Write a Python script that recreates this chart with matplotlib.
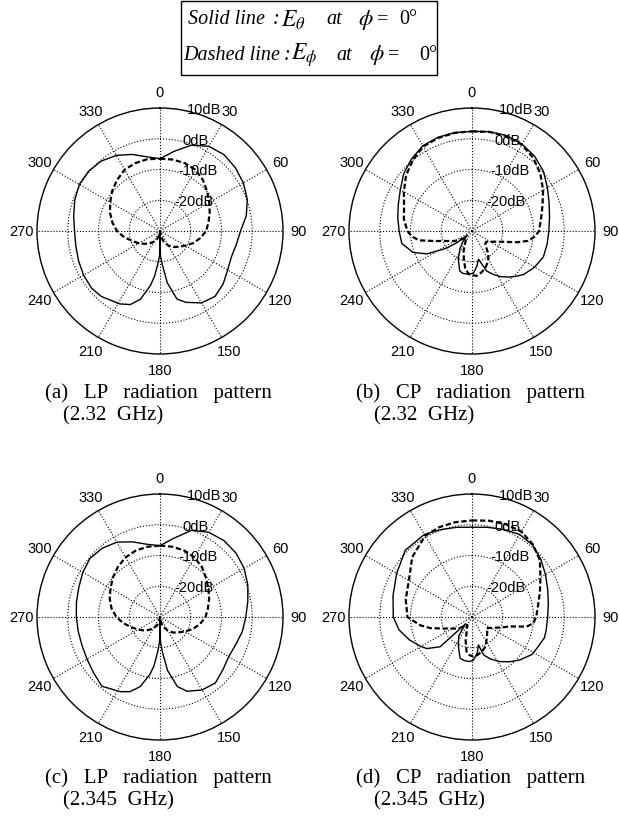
import numpy as np
import matplotlib
matplotlib.use('Agg')
import matplotlib.pyplot as plt
from matplotlib.patches import Rectangle

plt.rcParams['mathtext.fontset'] = 'stix'

# ---------------- data ----------------
angle_ticks = [0, 30, 60, 90, 120, 150, 180, 210, 240, 270, 300, 330]
angle_labels = ['0', '30', '60', '90', '120', '150', '180', '210', '240', '270', '300', '330']
ring_values = [-20, -10, 0, 10]
ring_labels = ['-20dB', '-10dB', '0dB', '10dB']
r_min, r_max = -30, 10

# (a) LP, 2.32 GHz
a_solid_ang = [0, 10, 20, 30, 40, 50, 60, 70, 80, 90, 100, 110, 120, 130, 140, 150, 160, 166, 172, 176,
               179, 180, 181, 184, 187, 190, 196, 202, 209, 222, 230, 240, 250, 260, 270, 280, 290, 300,
               310, 320, 330, 340, 350, 360]
a_solid_db = [-6.5, -3.7, -0.3, 1.8, 2.4, 2.0, 1.3, 0.2, -1.5, -3.8, -4.8, -5.3, -4.6, -3.2, -2.2, -3.0,
              -5.3, -7.2, -13.0, -19.0, -22.0, -29.0, -22.0, -19.0, -15.0, -12.0, -6.9, -4.2, -2.9, -1.4,
              -1.0, -1.3, -1.8, -2.2, -2.2, -1.5, -0.5, 0.3, 0.3, -0.3, -1.6, -3.5, -5.5, -6.5]
a_dash_ang = list(range(0, 361, 10))
a_dash_db = [-6.5, -6.4, -6.5, -7.0, -8.3, -10.0, -11.5, -12.8, -14.0, -15.0, -16.7, -18.5, -20.5,
             -22.0, -23.2, -24.5, -26.2, -28.0, -30.0, -28.5, -27.2, -26.0, -24.7, -23.5, -22.0, -20.5,
             -18.2, -16.0, -14.3, -12.7, -11.3, -9.7, -8.3, -7.0, -6.5, -6.3, -6.5]

# (b) CP, 2.32 GHz
b_solid_ang = [0, 10, 20, 30, 40, 50, 60, 70, 80, 90, 100, 110, 120, 130, 136, 142, 148, 154, 160, 167,
               172, 178, 185, 192, 197, 206, 214, 221, 228, 232, 236, 243, 250, 260, 270, 280, 290, 300,
               310, 320, 330, 340, 350, 360]
b_solid_db = [2.4, 2.8, 3.0, 2.6, 1.7, 0.3, -1.7, -3.3, -4.4, -5.0, -5.2, -5.3, -6.5, -8.0, -9.5, -11.0,
              -12.5, -14.3, -16.2, -20.6, -18.5, -16.3, -15.9, -15.9, -16.4, -19.8, -23.0, -25.5, -28.0,
              -24.0, -20.0, -13.6, -9.6, -6.8, -6.3, -5.5, -4.5, -3.1, -1.0, 0.6, 2.0, 2.4, 2.5, 2.4]
b_dash_ang = [0, 10, 20, 30, 40, 50, 60, 70, 80, 90, 95, 100, 104, 110, 115, 120, 127, 135, 145, 152,
              160, 167, 174, 184, 190, 196, 203, 210, 220, 230, 240, 245, 250, 255, 260, 265, 270, 280,
              290, 300, 310, 320, 330, 340, 350, 360]
b_dash_db = [2.4, 2.7, 2.8, 2.4, 1.0, -1.0, -3.3, -5.6, -7.2, -8.2, -9.5, -11.5, -14.9, -19.8, -21.8,
             -23.0, -24.2, -23.9, -20.7, -18.8, -17.3, -16.2, -15.3, -15.9, -17.5, -20.4, -23.0, -25.6,
             -27.0, -26.0, -23.5, -22.3, -20.5, -17.4, -12.5, -10.3, -9.0, -7.5, -6.5, -4.4, -2.0, 0.0,
             1.7, 2.2, 2.4, 2.4]

# (c) LP, 2.345 GHz
c_solid_ang = [0, 10, 20, 30, 40, 50, 60, 70, 80, 90, 100, 110, 120, 130, 140, 150, 160, 166, 172, 176,
               179, 180, 181, 184, 187, 190, 196, 202, 208, 220, 230, 240, 250, 260, 270, 280, 290, 300,
               310, 320, 330, 340, 350, 360]
c_solid_db = [-6.8, -4.0, 0.0, 1.8, 2.4, 2.3, 1.6, 0.4, -1.0, -2.1, -2.8, -3.8, -4.2, -3.3, -2.0, -2.6,
              -4.3, -6.7, -12.5, -18.5, -22.0, -29.0, -22.0, -18.5, -14.0, -11.0, -6.4, -3.8, -2.5, -0.6,
              -1.8, -2.6, -3.0, -3.0, -2.8, -2.4, -1.9, -1.0, -0.3, -0.8, -1.9, -4.0, -6.0, -6.8]
c_dash_ang = list(range(0, 361, 10))
c_dash_db = [-6.8, -6.8, -7.0, -7.6, -8.8, -10.4, -11.8, -13.0, -14.2, -15.2, -16.8, -18.6, -20.6,
             -22.2, -23.4, -24.8, -26.5, -28.2, -30.0, -28.5, -27.0, -25.8, -24.5, -23.2, -21.8, -20.2,
             -18.0, -15.8, -14.0, -12.6, -11.4, -10.0, -8.7, -7.6, -7.0, -6.8, -6.8]

# (d) CP, 2.345 GHz
d_solid_ang = [0, 10, 20, 30, 40, 50, 60, 70, 80, 90, 100, 106, 116, 122, 132, 140, 148, 156, 163, 167,
               172, 178, 183, 190, 196, 205, 215, 220, 223, 227, 235, 240, 250, 260, 270, 285, 300, 315,
               330, 340, 350, 360]
d_solid_db = [-0.8, -0.4, 0.3, 1.0, 0.6, -0.8, -2.4, -3.8, -4.8, -5.4, -5.5, -5.5, -6.6, -7.0, -9.1,
              -11.0, -12.9, -15.0, -17.1, -20.7, -18.0, -16.0, -15.5, -15.6, -16.0, -19.5, -22.5, -26.0,
              -27.0, -15.8, -12.1, -10.8, -8.3, -5.9, -4.4, -3.4, -1.7, 0.7, 1.0, 0.2, -0.4, -0.8]
d_dash_ang = [0, 10, 20, 30, 40, 50, 60, 70, 80, 90, 96, 100, 104, 110, 118, 127, 135, 145, 155, 164,
              172, 178, 184, 189, 195, 200, 210, 220, 230, 240, 248, 255, 261, 270, 285, 300, 315, 330,
              340, 350, 360]
d_dash_db = [1.4, 1.8, 2.1, 2.1, 0.8, -1.2, -4.3, -6.5, -8.2, -9.1, -10.0, -12.0, -17.3, -20.0, -22.5,
             -24.0, -23.0, -21.6, -19.5, -18.3, -17.5, -17.1, -17.6, -18.6, -22.0, -24.9, -27.0, -26.0,
             -24.0, -22.5, -20.0, -16.0, -12.9, -9.0, -7.7, -6.3, -2.5, 0.5, 1.1, 1.3, 1.4]

captions = [("(a)   LP   radiation   pattern", "(2.32  GHz)"),
            ("(b)   CP   radiation   pattern", "(2.32  GHz)"),
            ("(c)   LP   radiation   pattern", "(2.345  GHz)"),
            ("(d)   CP   radiation   pattern", "(2.345  GHz)")]

legend_line1 = ["Solid line", ":", r"$E_\theta$", "at", r"$\phi$", "=", "0°"]
legend_line2 = ["Dashed line", ":", r"$E_\phi$", "at", r"$\phi$", "=", "0°"]

# ---------------- layout ----------------
W, H = 619, 828
fig = plt.figure(figsize=(W / 100, H / 100), dpi=100)
R = 123  # px radius of the polar circle


def panel(cx, cy, s_ang, s_db, d_ang, d_db):
    ax = fig.add_axes([(cx - R) / W, 1 - (cy + R) / H, 2 * R / W, 2 * R / H], projection='polar')
    ax.set_theta_zero_location('N')
    ax.set_theta_direction(-1)
    ax.set_ylim(r_min, r_max)
    ax.set_yticks(ring_values[:-1])
    ax.set_yticklabels([])
    ax.set_xticks(np.deg2rad(angle_ticks))
    ax.set_xticklabels([])
    ax.tick_params(length=0)
    ax.grid(True, color='k', ls=':', lw=0.8)
    ax.spines['polar'].set_linewidth(1.0)
    ax.plot(np.deg2rad(s_ang), s_db, color='k', lw=1.0)
    ax.plot(np.deg2rad(d_ang), d_db, color='k', ls=(0, (2.4, 1.2)), lw=1.6)
    for a, lab in zip(angle_ticks, angle_labels):
        ax.text(np.deg2rad(a), 15.2, lab, ha='center', va='center', fontsize=10.5,
                family='Liberation Sans', clip_on=False)
    for v, lab in zip(ring_values, ring_labels):
        ax.annotate(lab, xy=(np.deg2rad(8), v), xytext=(7, 0), textcoords='offset points',
                    ha='left', va='center', fontsize=10.5, family='Liberation Sans')
    return ax


panel(160, 232, a_solid_ang, a_solid_db, a_dash_ang, a_dash_db)
panel(472, 232, b_solid_ang, b_solid_db, b_dash_ang, b_dash_db)
panel(160, 618, c_solid_ang, c_solid_db, c_dash_ang, c_dash_db)
panel(472, 618, d_solid_ang, d_solid_db, d_dash_ang, d_dash_db)

# captions
cap_pos = [(45, 393), (356, 393), (45, 778), (356, 778)]
for (l1, l2), (x, y) in zip(captions, cap_pos):
    fig.text(x / W, 1 - y / H, l1, ha='left', va='center', fontsize=15, family='Liberation Serif')
    fig.text((x + 18) / W, 1 - (y + 23) / H, l2, ha='left', va='center', fontsize=15,
             family='Liberation Serif')

# legend box
fig.add_artist(Rectangle((181 / W, 1 - 76 / H), (437 - 181) / W, (76 - 2) / H,
                         transform=fig.transFigure, fill=False, ec='k', lw=1.0))
x1 = [188, 273, 281, 326, 358, 377, 399]
x2 = [183, 284, 291, 336, 369, 388, 419]
styles = ['italic', 'italic', 'normal', 'italic', 'normal', 'normal', 'normal']
sizes = [14.5, 14.5, 17, 14.5, 16.5, 14.5, 14.5]
for items, xs, y in ((legend_line1, x1, 20), (legend_line2, x2, 55)):
    for s, x, st, fs in zip(items, xs, styles, sizes):
        fig.text(x / W, 1 - y / H, s, ha='left', va='center', fontsize=fs,
                 family='Liberation Serif', style=st)

fig.savefig('out.png', dpi=100)
